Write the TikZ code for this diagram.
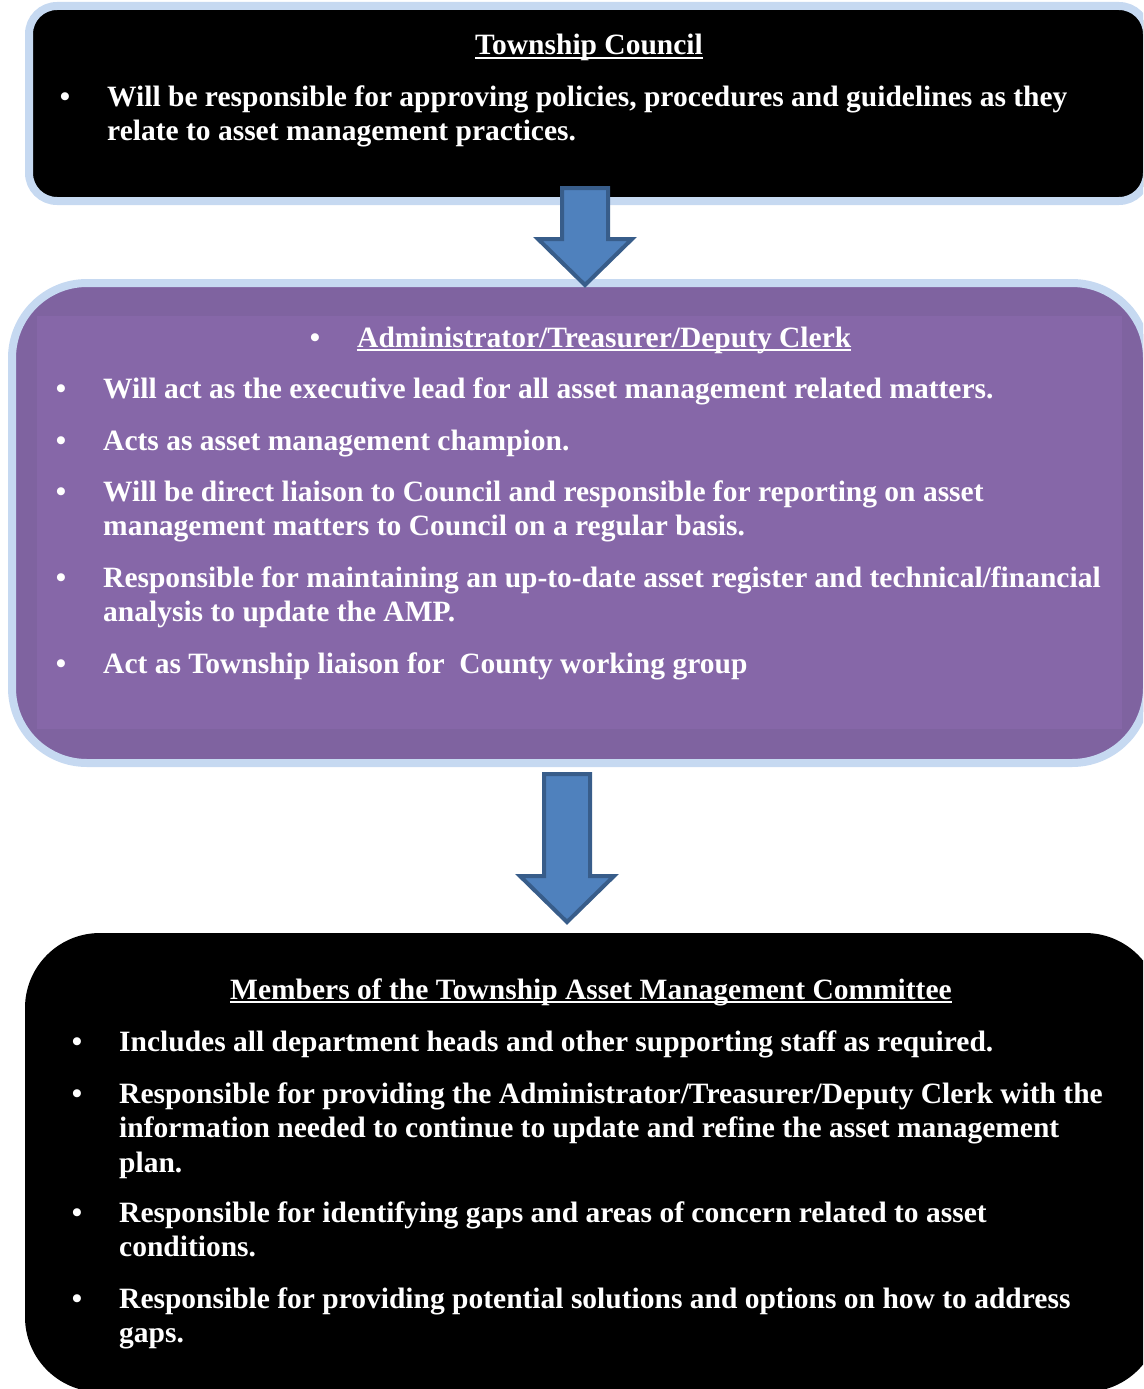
\documentclass[tikz,border=0pt]{standalone}
\usepackage{fontspec}
\setmainfont{Liberation Serif}
\usepackage{xcolor}
\usepackage{tikz}
\usetikzlibrary{positioning}

\definecolor{edgeblue}{HTML}{C6D9F1}
\definecolor{purpleout}{HTML}{7F63A0}
\definecolor{purplein}{HTML}{8667A8}
\definecolor{arrowfill}{HTML}{4F81BD}
\definecolor{arrowline}{HTML}{385D8A}

% underline sitting a little under the baseline
\newcommand{\ultext}[1]{\setbox0\hbox{#1}\rlap{\rule[-4pt]{\wd0}{1.8pt}}\box0}

\begin{document}
\begin{tikzpicture}[
  x=1pt, y=-1pt,
  txt/.style={text=white, inner sep=0pt, font=\bfseries\fontsize{29.5}{34.5}\selectfont},
  item/.style={txt, anchor=base west, text width=1040pt, align=left,
    execute at begin node={\spaceskip=0pt\xspaceskip=0pt\relax}},
  head/.style={txt, anchor=base},
  bul/.style={txt, anchor=base},
  blockarrow/.style={fill=arrowfill, draw=arrowline, line width=4pt, line join=miter},
]
\useasboundingbox (0,0) rectangle (1143,1389);
\clip (0,0) rectangle (1143,1389);

  % Boxes
  \draw[edgeblue, line width=8pt, fill=black, rounded corners=28pt] (29,6) rectangle (1147,201);
  \draw[edgeblue, line width=8pt, fill=purpleout, rounded corners=75pt] (12,283) rectangle (1147,763);
  \fill[purplein] (37,316) rectangle (1122,729);
  \fill[black, rounded corners=75pt] (25,933) rectangle (1160,1392);

  % Arrows
  \draw[blockarrow] (562,188) -- (608,188) -- (608,239) -- (632,239) -- (585,285)
    -- (538,239) -- (562,239) -- cycle;
  \draw[blockarrow] (544,774) -- (590,774) -- (590,876) -- (614,876) -- (567,922)
    -- (520,876) -- (544,876) -- cycle;

  % Township Council
  \node[head] (council) at (589,55) {\ultext{Township Council}};
  \node[bul] (council-b1) at (65,106) {\textbullet};
  \node[item] (council-1) at (107,106)
    {Will be responsible for approving policies, procedures and guidelines as they\\
     relate to asset management practices.};

  % Administrator
  \node[bul] (admin-b0) at (315,347) {\textbullet};
  \node[txt, anchor=base west] (admin) at (357,347) {\ultext{Administrator/Treasurer/Deputy Clerk}};
  \foreach \y in {398,450,501,587,673}
    \node[bul] (admin-b\y) at (61,\y) {\textbullet};
  \node[item] (admin-1) at (103,398)
    {Will act as the executive lead for all asset management related matters.};
  \node[item] (admin-2) at (103,450) {Acts as asset management champion.};
  \node[item] (admin-3) at (103,501)
    {Will be direct liaison to Council and responsible for reporting on asset\\
     management matters to Council on a regular basis.};
  \node[item] (admin-4) at (103,587)
    {Responsible for maintaining an up-to-date asset register and technical/financial\\
     analysis to update the AMP.};
  \node[item] (admin-5) at (103,673) {Act as Township liaison for\ \ County working group};

  % Committee
  \node[head] (cttee) at (591,999) {\ultext{Members of the Township Asset Management Committee}};
  \foreach \y in {1051,1103,1222,1308}
    \node[bul] (cttee-b\y) at (77,\y) {\textbullet};
  \node[item] (cttee-1) at (119,1051)
    {Includes all department heads and other supporting staff as required.};
  \node[item] (cttee-2) at (119,1103)
    {Responsible for providing the Administrator/Treasurer/Deputy Clerk with the\\
     information needed to continue to update and refine the asset management\\
     plan.};
  \node[item] (cttee-3) at (119,1222)
    {Responsible for identifying gaps and areas of concern related to asset\\
     conditions.};
  \node[item] (cttee-4) at (119,1308)
    {Responsible for providing potential solutions and options on how to address\\
     gaps.};

\end{tikzpicture}
\end{document}
